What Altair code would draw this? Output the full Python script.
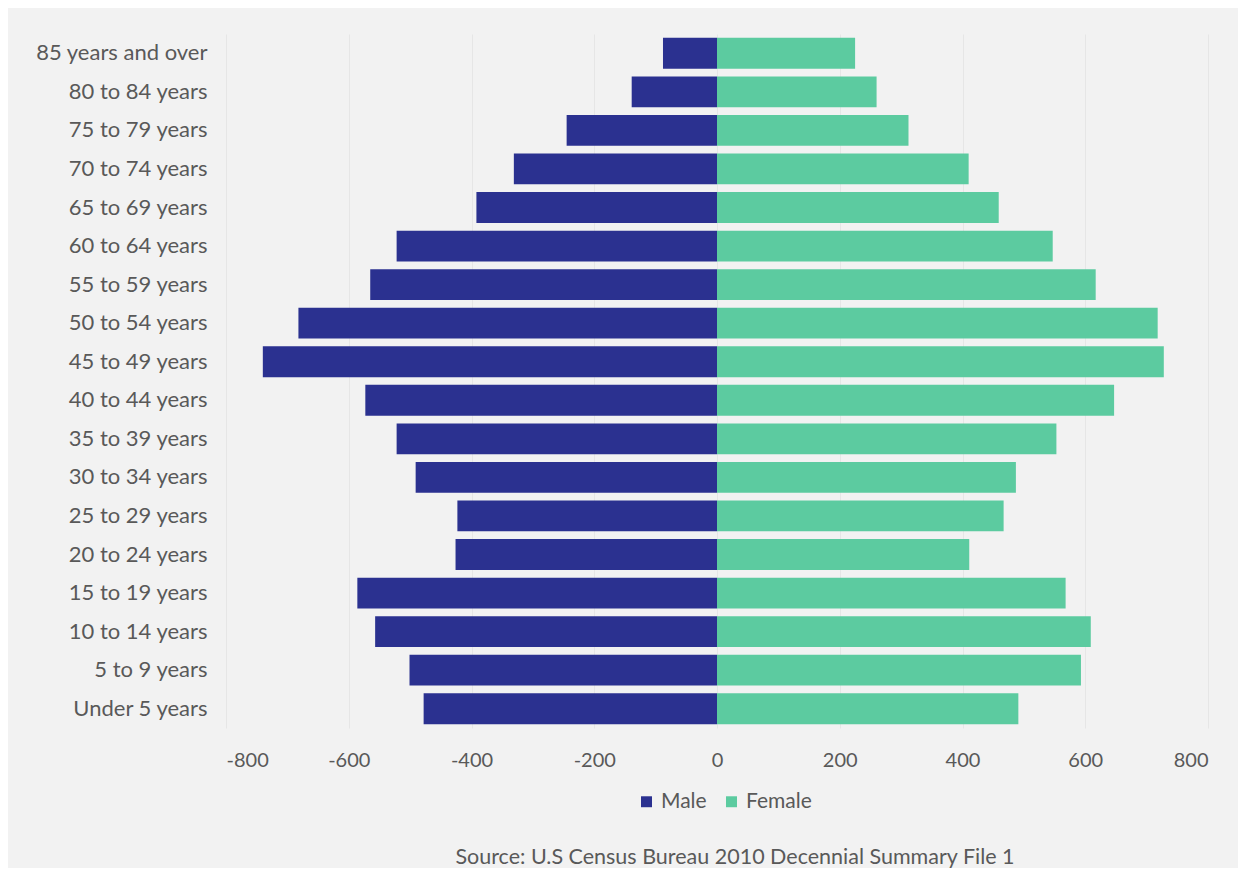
import altair as alt
import pandas as pd

ages = ["85 years and over", "80 to 84 years", "75 to 79 years", "70 to 74 years",
        "65 to 69 years", "60 to 64 years", "55 to 59 years", "50 to 54 years",
        "45 to 49 years", "40 to 44 years", "35 to 39 years", "30 to 34 years",
        "25 to 29 years", "20 to 24 years", "15 to 19 years", "10 to 14 years",
        "5 to 9 years", "Under 5 years"]
male = [-88, -139, -245, -331, -392, -522, -565, -682, -740, -573, -522, -491,
        -423, -426, -586, -557, -501, -478]
female = [225, 260, 312, 410, 459, 547, 617, 718, 728, 647, 553, 487,
          467, 411, 568, 609, 593, 491]
x_ticks = [-800, -600, -400, -200, 0, 200, 400, 600, 800]
source_text = ["Source: U.S Census Bureau 2010 Decennial Summary File 1"]

rows = []
for a, m, f in zip(ages, male, female):
    rows.append({"age": a, "sex": "Male", "value": m})
    rows.append({"age": a, "sex": "Female", "value": f})
df = pd.DataFrame(rows)

FONT = "Lato"
W, H = 982, 694

bars = alt.Chart(df).mark_bar().encode(
    x=alt.X("value:Q",
            scale=alt.Scale(domain=[-800, 800], nice=False, zero=False),
            axis=alt.Axis(values=x_ticks, title=None, domain=False, ticks=False,
                          grid=True, gridColor="#e6e6e6", gridWidth=1,
                          labelExpr="'' + datum.value",
                          labelFont=FONT, labelFontSize=20, labelColor="#595959",
                          labelPadding=22)),
    y=alt.Y("age:N", sort=ages,
            scale=alt.Scale(paddingInner=0.2, paddingOuter=0.1),
            axis=alt.Axis(title=None, domain=False, ticks=False,
                          labelFont=FONT, labelFontSize=22, labelColor="#595959",
                          labelPadding=19)),
    color=alt.Color("sex:N",
                    scale=alt.Scale(domain=["Male", "Female"],
                                    range=["#2b3190", "#5ccba0"]),
                    legend=alt.Legend(title=None, orient="none", direction="horizontal",
                                      legendX=410, legendY=757,
                                      symbolType="square", symbolSize=120,
                                      labelFont=FONT, labelFontSize=21,
                                      labelColor="#595959", columnPadding=14,
                                      symbolStrokeWidth=0)),
)

src = alt.Chart(pd.DataFrame({"t": source_text})).mark_text(
    font=FONT, fontSize=21.5, color="#595959", align="center", baseline="middle"
).encode(x=alt.value(W / 2 + 18), y=alt.value(824), text="t:N")

chart = alt.layer(bars, src).properties(
    width=W, height=H,
    autosize=alt.AutoSizeParams(type="none"),
    padding={"left": 218, "top": 26, "right": 30, "bottom": 140},
    background="#f2f2f2",
).configure_view(stroke=None)

chart.save("out.html", embed_options={"renderer": "svg", "actions": False})
